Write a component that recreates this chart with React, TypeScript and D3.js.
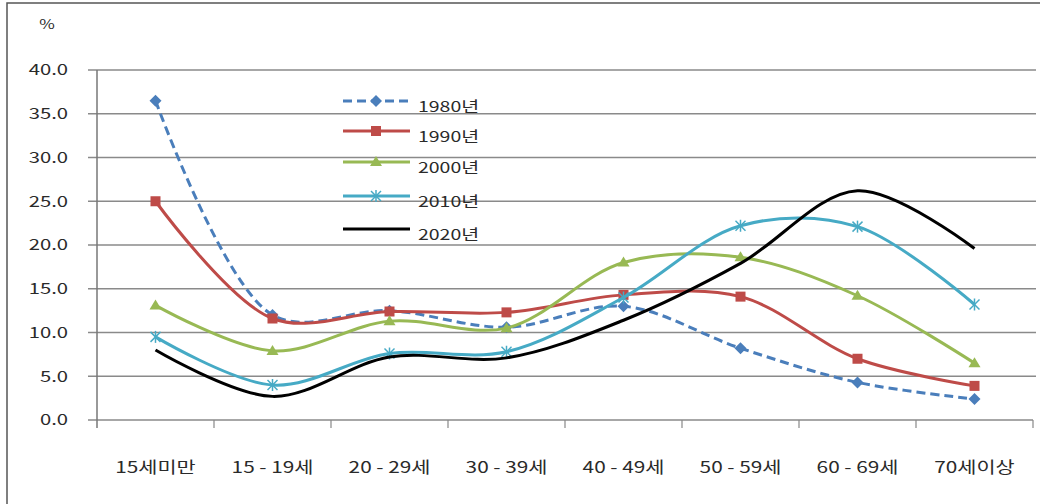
import * as React from 'react';
import * as d3 from 'd3';

const categories = ['15세미만', '15 - 19세', '20 - 29세', '30 - 39세', '40 - 49세', '50 - 59세', '60 - 69세', '70세이상'];
const yTicks = [0, 5, 10, 15, 20, 25, 30, 35, 40];

const v1980 = [36.5, 12.0, 12.5, 10.6, 13.0, 8.2, 4.3, 2.4];
const v1990 = [25.0, 11.6, 12.4, 12.3, 14.3, 14.1, 7.0, 3.9];
const v2000 = [13.1, 7.9, 11.3, 10.5, 18.0, 18.6, 14.2, 6.5];
const v2010 = [9.5, 4.0, 7.6, 7.8, 14.0, 22.2, 22.1, 13.2];
const v2020 = [8.0, 2.7, 7.2, 7.1, 11.4, 17.9, 26.2, 19.6];

const seriesNames = ['1980년', '1990년', '2000년', '2010년', '2020년'];

interface Series { name: string; values: number[]; color: string; dash?: string; marker: string; }

const series: Series[] = [
  {name: seriesNames[0], values: v1980, color: '#4a7ebb', dash: '9,5', marker: 'diamond'},
  {name: seriesNames[1], values: v1990, color: '#be4b48', marker: 'square'},
  {name: seriesNames[2], values: v2000, color: '#98b954', marker: 'triangle'},
  {name: seriesNames[3], values: v2010, color: '#46aac5', marker: 'x'},
  {name: seriesNames[4], values: v2020, color: '#000000', marker: 'none'},
];

const W = 1040;
const H = 504;
const left = 97;
const right = 1033;
const top = 70;
const bottom = 420;
const font = '"Noto Sans CJK KR", "Noto Sans", sans-serif';
const textFill = '#2a2a2a';

const x = d3.scaleBand<string>().domain(categories).range([left, right]);
const y = d3.scaleLinear().domain([0, 40]).range([bottom, top]);

// the source picture is stretched sideways, so text is widened to match
const Label = ({tx, ty, size, sx, anchor, children}: {tx: number, ty: number, size: number, sx: number, anchor?: string, children: React.ReactNode}) => (
  <text transform={`translate(${tx},${ty}) scale(${sx},1)`} dy="0.35em" textAnchor={anchor || 'start'}
    fontFamily={font} fontSize={size} fill={textFill}>{children}</text>
);

const Marker = ({kind, cx, cy, color}: {kind: string, cx: number, cy: number, color: string}) => {
  if (kind === 'diamond') {
    const s = 6;
    return <path d={`M${cx},${cy - s}L${cx + s},${cy}L${cx},${cy + s}L${cx - s},${cy}Z`} fill={color} />;
  }
  if (kind === 'square') {
    return <rect x={cx - 5} y={cy - 5} width={10} height={10} fill={color} />;
  }
  if (kind === 'triangle') {
    return <path d={`M${cx},${cy - 6}L${cx + 6},${cy + 4}L${cx - 6},${cy + 4}Z`} fill={color} />;
  }
  if (kind === 'x') {
    return (
      <g stroke={color} strokeWidth={1.5}>
        <line x1={cx - 5} y1={cy - 5} x2={cx + 5} y2={cy + 5} />
        <line x1={cx - 5} y1={cy + 5} x2={cx + 5} y2={cy - 5} />
        <line x1={cx} y1={cy - 6} x2={cx} y2={cy + 6} />
      </g>
    );
  }
  return null;
};

export default function App() {
  const line = d3.line<number>()
    .x((_, i) => (x(categories[i]) as number) + x.bandwidth() / 2)
    .y(d => y(d))
    .curve(d3.curveCatmullRom.alpha(0.5));

  const legendX = 343;
  const legendRows = [101, 131, 162, 196, 229];

  return (
    <svg width={W} height={H} style={{position: 'absolute', left: 0, top: 0, background: '#fff'}}>
      <rect x={7} y={3} width={W} height={H} fill="none" stroke="#555" strokeWidth={1.5} />

      {/* grid + y ticks */}
      {yTicks.map(t => (
        <g key={t}>
          <line x1={88} x2={t === 0 ? right : 1036} y1={y(t)} y2={y(t)} stroke="#8a8a8a" strokeWidth={1.5} />
          <Label tx={68} ty={y(t)} size={15} sx={1.35} anchor="end">{t.toFixed(1)}</Label>
        </g>
      ))}
      <Label tx={47} ty={24} size={13} sx={1.3} anchor="middle">%</Label>

      {/* axes */}
      <line x1={left} x2={left} y1={top} y2={bottom + 8} stroke="#777" strokeWidth={1.5} />
      {categories.map(c => (
        <line key={c} x1={(x(c) as number) + x.bandwidth()} x2={(x(c) as number) + x.bandwidth()}
          y1={bottom} y2={bottom + 8} stroke="#888" strokeWidth={1.2} />
      ))}
      {categories.map(c => (
        <Label key={c} tx={(x(c) as number) + x.bandwidth() / 2} ty={467} size={16} sx={1.3} anchor="middle">{c}</Label>
      ))}

      {/* series */}
      {series.map(s => (
        <g key={s.name}>
          <path d={line(s.values) as string} fill="none" stroke={s.color} strokeWidth={3}
            strokeDasharray={s.dash} strokeLinejoin="round" />
          {s.values.map((v, i) => (
            <Marker key={i} kind={s.marker} cx={(x(categories[i]) as number) + x.bandwidth() / 2} cy={y(v)} color={s.color} />
          ))}
        </g>
      ))}

      {/* legend */}
      {series.map((s, i) => (
        <g key={s.name}>
          <line x1={legendX} x2={legendX + 67} y1={legendRows[i]} y2={legendRows[i]} stroke={s.color}
            strokeWidth={3} strokeDasharray={s.dash} />
          <Marker kind={s.marker} cx={legendX + 33} cy={legendRows[i]} color={s.color} />
          <Label tx={418} ty={legendRows[i] + 6} size={15} sx={1.3}>{s.name}</Label>
        </g>
      ))}
    </svg>
  );
}
